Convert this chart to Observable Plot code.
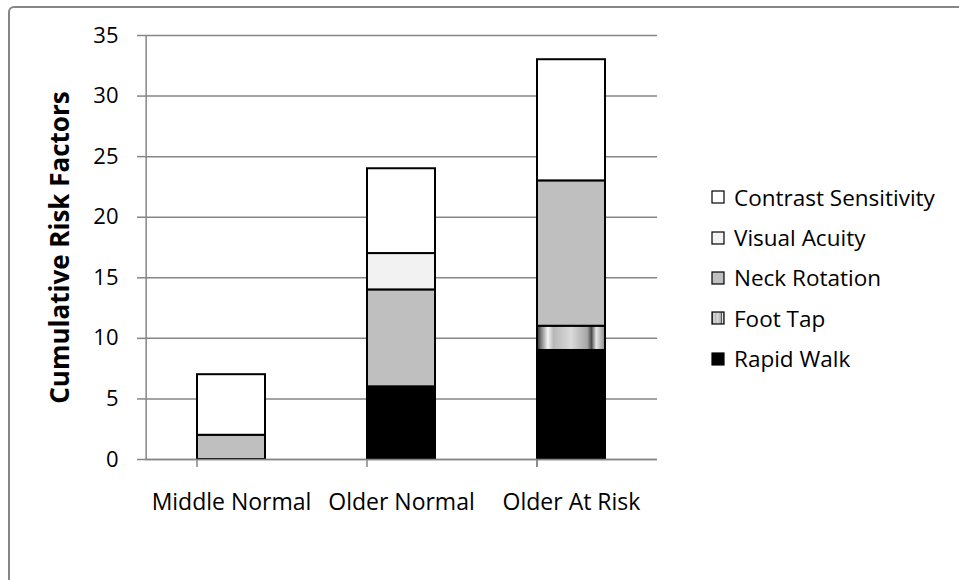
<!DOCTYPE html>
<html>
<head>
<meta charset="utf-8">
<script src="https://cdn.jsdelivr.net/npm/d3@7"></script>
<script src="https://cdn.jsdelivr.net/npm/@observablehq/plot@0.6"></script>
<style>
  html, body { margin: 0; padding: 0; background: #fff; overflow: hidden; }
  body { width: 959px; height: 580px; position: relative; font-family: "Open Sans", sans-serif; }
  #border { position: absolute; left: 8px; top: 6px; width: 980px; height: 600px;
            border: 2px solid #868686; border-radius: 6px; box-sizing: border-box; }
  #chart { position: absolute; left: 0; top: 0; }
  #legend { position: absolute; left: 711px; top: 177px; font-size: 22.5px; color: #000; }
  #legend .row { height: 40.4px; display: flex; align-items: center; }
  #legend svg { margin-right: 9px; }
</style>
</head>
<body>
<div id="border"></div>
<div id="chart"></div>
<div id="legend"></div>
<script>
// Groups along the x axis
const groups = ["Middle Normal", "Older Normal", "Older At Risk"];
// Risk factors, bottom of the stack first
const factors = ["Rapid Walk", "Foot Tap", "Neck Rotation", "Visual Acuity", "Contrast Sensitivity"];
// Count of each risk factor per group
const rapidWalk = [0, 6, 9];
const footTap = [0, 0, 2];
const neckRotation = [2, 8, 12];
const visualAcuity = [0, 3, 0];
const contrastSensitivity = [5, 7, 10];
// Y axis ticks
const yTicks = [0, 5, 10, 15, 20, 25, 30, 35];
// Legend order (top to bottom)
const legendOrder = ["Contrast Sensitivity", "Visual Acuity", "Neck Rotation", "Foot Tap", "Rapid Walk"];
const yLabel = "Cumulative Risk Factors";

const fills = ["#000000", "url(#footTapFill)", "#bfbfbf", "#f2f2f2", "#ffffff"];

const seriesValues = [rapidWalk, footTap, neckRotation, visualAcuity, contrastSensitivity];
const rows = [];
groups.forEach((g, i) => {
  factors.forEach((f, j) => {
    const v = seriesValues[j][i];
    if (v > 0) rows.push({group: g, factor: f, value: v});
  });
});

const width = 959, height = 580;
const marginLeft = 145, marginRight = 302, marginTop = 35, marginBottom = 121;
const step = (width - marginLeft - marginRight) / groups.length;

// Category boundaries for the x-axis tick marks
const boundaries = [...groups.map(g => ({g, dx: -step / 2})), {g: groups[groups.length - 1], dx: step / 2}];

const plot = Plot.plot({
  width, height, marginLeft, marginRight, marginTop, marginBottom,
  style: {fontFamily: "Open Sans, sans-serif", fontSize: "22px", color: "#000", background: "transparent"},
  x: {domain: groups, paddingInner: 0.6, paddingOuter: 0.3, label: null},
  y: {domain: [0, 35], label: null},
  color: {domain: factors, range: fills},
  marks: [
    Plot.gridY(yTicks, {stroke: "#868686", strokeOpacity: 1, strokeWidth: 1.5}),
    Plot.barY(rows, Plot.stackY({
      x: "group", y: "value", fill: "factor", order: factors,
      stroke: "#000", strokeWidth: 2
    })),
    Plot.axisY(yTicks, {tickSize: 8, tickPadding: 19, stroke: "#868686", strokeWidth: 1.5, fontSize: 22, label: null}),
    Plot.axisX({tickSize: 0, tickPadding: 34, fontSize: 23, label: null}),
    Plot.ruleY([0], {stroke: "#868686", strokeWidth: 1.5}),
    Plot.ruleX([groups[0]], {dx: -step / 2, y1: 0, y2: 35, stroke: "#868686", strokeWidth: 1.5}),
    Plot.ruleX(boundaries, {x: "g", dx: d => d.dx, y1: 0, y2: 0, insetBottom: -8, stroke: "#868686", strokeWidth: 1.5}),
    Plot.text([yLabel], {frameAnchor: "left", textAnchor: "middle", rotate: -90, dx: -85, text: d => d, fontWeight: "bold", fontSize: 26})
  ]
});

// Striped shading used for the Foot Tap segments
const defs = `
<defs>
  <linearGradient id="footTapFill" x1="0" y1="0" x2="1" y2="0">
    <stop offset="0" stop-color="#2e2e2e"/>
    <stop offset="0.07" stop-color="#8a8a8a"/>
    <stop offset="0.16" stop-color="#f4f4f4"/>
    <stop offset="0.24" stop-color="#b8b8b8"/>
    <stop offset="0.5" stop-color="#dadada"/>
    <stop offset="0.74" stop-color="#a6a6a6"/>
    <stop offset="0.8" stop-color="#4a4a4a"/>
    <stop offset="0.87" stop-color="#e6e6e6"/>
    <stop offset="1" stop-color="#8c8c8c"/>
  </linearGradient>
</defs>`;
plot.insertAdjacentHTML("afterbegin", defs);
document.getElementById("chart").appendChild(plot);

// Legend
const legend = d3.select("#legend");
legendOrder.forEach(name => {
  const row = legend.append("div").attr("class", "row");
  const sw = row.append("svg").attr("width", 14).attr("height", 14);
  sw.append("rect").attr("x", 1).attr("y", 1).attr("width", 12).attr("height", 12)
    .attr("fill", fills[factors.indexOf(name)]).attr("stroke", "#000").attr("stroke-width", 1.2);
  row.append("span").text(name);
});
</script>
</body>
</html>
